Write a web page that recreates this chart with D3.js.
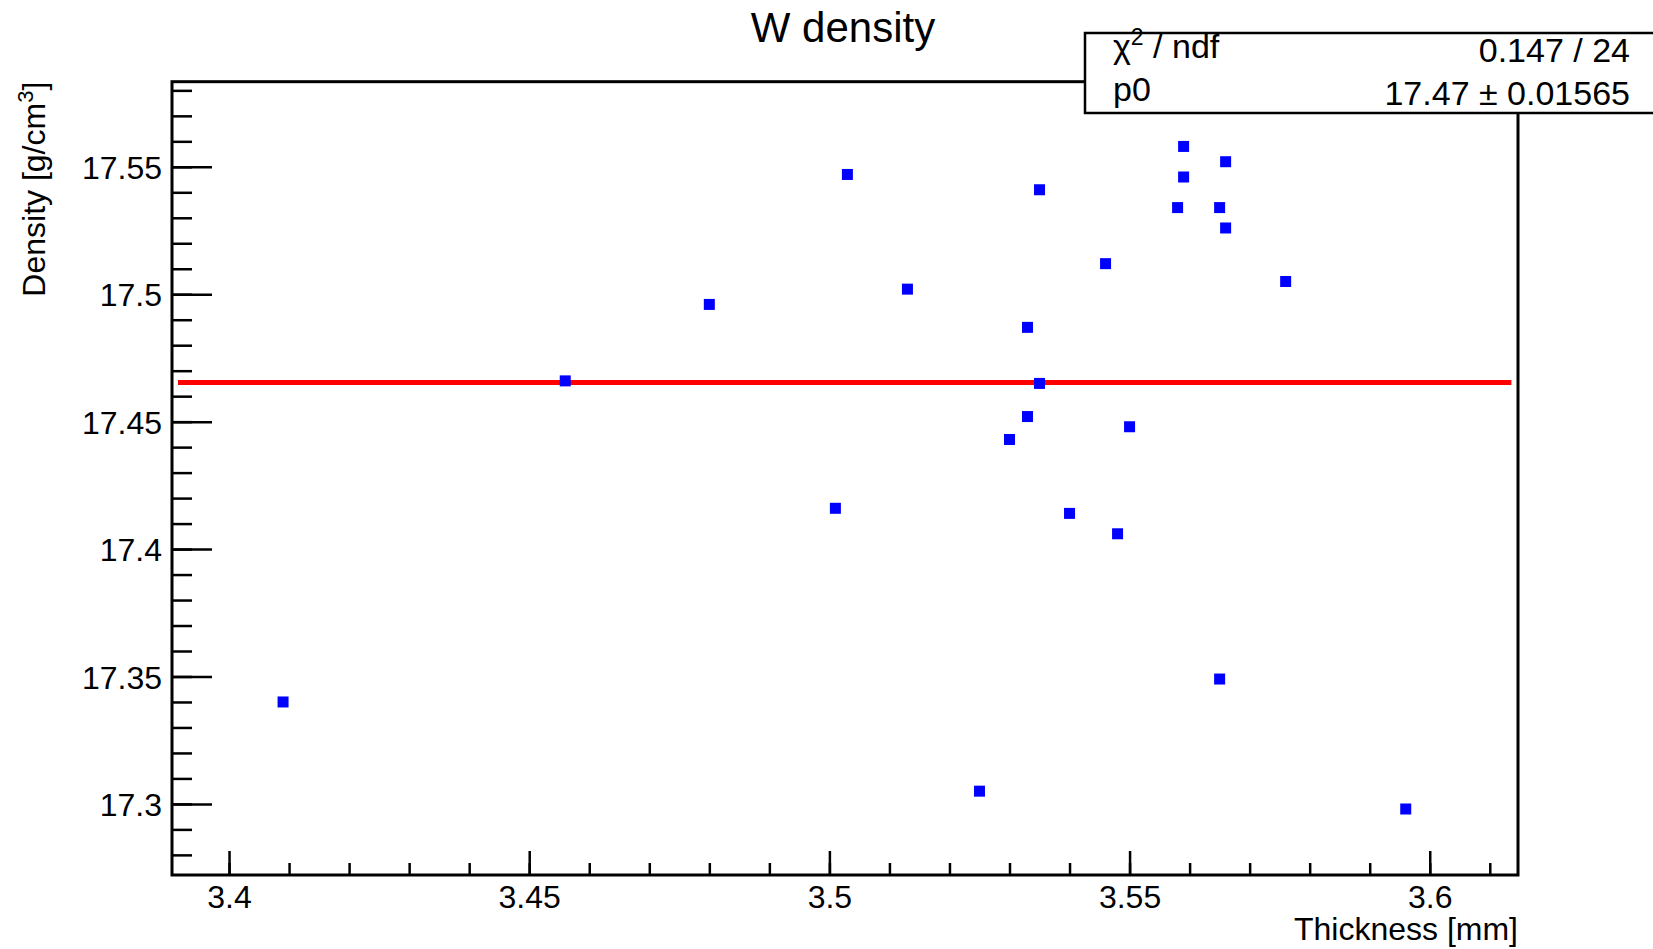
<!DOCTYPE html>
<html>
<head>
<meta charset="utf-8">
<script src="https://cdn.jsdelivr.net/npm/d3@7"></script>
<style>
  body { margin: 0; background: #fff; }
  text { font-family: "Liberation Sans", Arial, sans-serif; fill: #000; }
</style>
</head>
<body>
<div id="chart"></div>
<script>
// thickness [mm] and density [g/cm3] of the 25 samples
var thickness = [3.409, 3.456, 3.480, 3.501, 3.503, 3.513, 3.525, 3.530, 3.533, 3.533,
                 3.535, 3.535, 3.540, 3.546, 3.548, 3.550, 3.558, 3.559, 3.559, 3.565,
                 3.565, 3.566, 3.566, 3.576, 3.596];
var density = [17.340, 17.466, 17.496, 17.416, 17.547, 17.502, 17.305, 17.443, 17.487, 17.452,
               17.541, 17.465, 17.414, 17.512, 17.406, 17.448, 17.534, 17.558, 17.546, 17.534,
               17.349, 17.552, 17.526, 17.505, 17.298];

var fitValue = 17.4654;
var fitRange = [3.3915, 3.6136];

var xTicks = [3.4, 3.45, 3.5, 3.55, 3.6];
var xTickLabels = ["3.4", "3.45", "3.5", "3.55", "3.6"];
var yTicks = [17.3, 17.35, 17.4, 17.45, 17.5, 17.55];
var yTickLabels = ["17.3", "17.35", "17.4", "17.45", "17.5", "17.55"];

var statNames = ["ndf", "p0"];
var statValues = ["0.147 / 24", "17.47 \u00b1 0.01565"];

var W = 1653, H = 949;
var pLeft = 172, pRight = 1518, pTop = 81.7, pBottom = 875;

var svg = d3.select("#chart").append("svg")
  .attr("width", W)
  .attr("height", H);

var x = d3.scaleLinear().domain([3.3905, 3.6147]).range([pLeft, pRight]);
var y = d3.scaleLinear().domain([17.2721, 17.5834]).range([pBottom, pTop]);

// minor ticks every 0.01
var xMinor = d3.range(340, 362).map(function(d) { return d / 100; });
var yMinor = d3.range(1728, 1759).map(function(d) { return d / 100; });

svg.append("g")
  .attr("transform", "translate(0," + pBottom + ")")
  .call(d3.axisBottom(x).tickValues(xMinor).tickSize(-12).tickFormat(""))
  .call(function(g) { g.select(".domain").remove(); })
  .selectAll("line").attr("stroke-width", 2.5);

svg.append("g")
  .attr("transform", "translate(0," + pBottom + ")")
  .call(d3.axisBottom(x).tickValues(xTicks).tickSize(-24).tickPadding(10)
    .tickFormat(function(d, i) { return xTickLabels[i]; }))
  .call(function(g) { g.select(".domain").remove(); })
  .call(function(g) {
    g.selectAll("line").attr("stroke-width", 2.5);
    g.selectAll("text").style("font-size", "32px").attr("fill", "#000");
  });

svg.append("g")
  .attr("transform", "translate(" + pLeft + ",0)")
  .call(d3.axisLeft(y).tickValues(yMinor).tickSize(-20).tickFormat(""))
  .call(function(g) { g.select(".domain").remove(); })
  .selectAll("line").attr("stroke-width", 2.5);

svg.append("g")
  .attr("transform", "translate(" + pLeft + ",0)")
  .call(d3.axisLeft(y).tickValues(yTicks).tickSize(-40).tickPadding(10)
    .tickFormat(function(d, i) { return yTickLabels[i]; }))
  .call(function(g) { g.select(".domain").remove(); })
  .call(function(g) {
    g.selectAll("line").attr("stroke-width", 2.5);
    g.selectAll("text").style("font-size", "32px").attr("fill", "#000").attr("dy", "0.36em");
  });

// frame
svg.append("rect")
  .attr("x", pLeft)
  .attr("y", pTop)
  .attr("width", pRight - pLeft)
  .attr("height", pBottom - pTop)
  .attr("fill", "none")
  .attr("stroke", "#000")
  .attr("stroke-width", 3);

// fit line
svg.append("line")
  .attr("x1", x(fitRange[0]))
  .attr("x2", x(fitRange[1]))
  .attr("y1", y(fitValue))
  .attr("y2", y(fitValue))
  .attr("stroke", "#ff0000")
  .attr("stroke-width", 5);

// points
svg.append("g")
  .selectAll("rect")
  .data(thickness)
  .join("rect")
  .attr("x", function(d) { return x(d) - 5.5; })
  .attr("y", function(d, i) { return y(density[i]) - 5.5; })
  .attr("width", 11)
  .attr("height", 11)
  .attr("fill", "#0000ff");

// title
svg.append("text")
  .attr("x", 843)
  .attr("y", 41.7)
  .attr("text-anchor", "middle")
  .style("font-size", "42px")
  .text("W density");

// axis titles
svg.append("text")
  .attr("x", pRight)
  .attr("y", 940)
  .attr("text-anchor", "end")
  .style("font-size", "32px")
  .text("Thickness [mm]");

var yl = svg.append("text")
  .attr("transform", "translate(45," + pTop + ") rotate(-90)")
  .attr("text-anchor", "end")
  .style("font-size", "32px");
yl.append("tspan").text("Density [g/cm");
yl.append("tspan").attr("dy", -12).style("font-size", "22px").text("3");
yl.append("tspan").attr("dy", 12).text("]");

// stats box
svg.append("rect")
  .attr("x", 1085)
  .attr("y", 33)
  .attr("width", 600)
  .attr("height", 80)
  .attr("fill", "#fff")
  .attr("stroke", "#000")
  .attr("stroke-width", 2.5);

var s1 = svg.append("text")
  .attr("x", 1113)
  .attr("y", 58)
  .style("font-size", "34px");
s1.append("tspan").text("\u03c7");
s1.append("tspan").attr("dy", -13).style("font-size", "23px").text("2");
s1.append("tspan").attr("dy", 13).text(" / " + statNames[0]);

svg.append("text")
  .attr("x", 1113)
  .attr("y", 101)
  .style("font-size", "34px")
  .text(statNames[1]);

svg.selectAll(".statval")
  .data(statValues)
  .join("text")
  .attr("class", "statval")
  .attr("x", 1630)
  .attr("y", function(d, i) { return i == 0 ? 62 : 105; })
  .attr("text-anchor", "end")
  .style("font-size", "34px")
  .text(function(d) { return d; });
</script>
</body>
</html>
